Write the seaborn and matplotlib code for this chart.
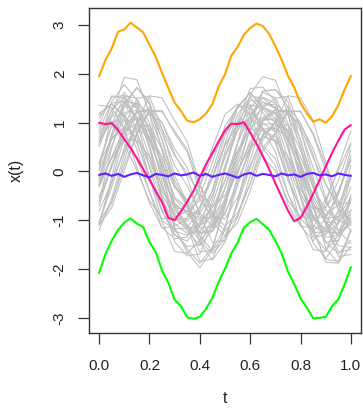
import numpy as np
import pandas as pd
import matplotlib
matplotlib.use("Agg")
import matplotlib.pyplot as plt
import seaborn as sb

# grid of the grey sample paths (step 0.05) and of the coloured curves (step 0.025)
t_grey = [0.0, 0.05, 0.1, 0.15, 0.2, 0.25, 0.3, 0.35, 0.4, 0.45, 0.5,
          0.55, 0.6, 0.65, 0.7, 0.75, 0.8, 0.85, 0.9, 0.95, 1.0]
t_col = [0.0, 0.025, 0.05, 0.075, 0.1, 0.125, 0.15, 0.175, 0.2, 0.225, 0.25,
         0.275, 0.3, 0.325, 0.35, 0.375, 0.4, 0.425, 0.45, 0.475, 0.5,
         0.525, 0.55, 0.575, 0.6, 0.625, 0.65, 0.675, 0.7, 0.725, 0.75,
         0.775, 0.8, 0.825, 0.85, 0.875, 0.9, 0.925, 0.95, 0.975, 1.0]

grey_curves = [
    [0.03, 1.15, 1.93, 1.88, 1.21, -0.04, -1.15, -1.66, -1.97, -1.60, -0.65, 0.60, 1.58, 1.94, 1.87, 1.20, 0.04, -1.14, -1.86, -1.88, -1.21],
    [-0.63, 0.48, 1.33, 1.72, 1.38, 0.43, -0.68, -1.13, -1.84, -1.79, -1.18, -0.07, 0.93, 1.64, 1.68, 1.33, 0.49, -0.64, -1.58, -1.87, -1.53],
    [0.51, 1.27, 1.62, 1.31, 0.47, -0.52, -1.28, -1.54, -1.50, -0.96, 0.03, 0.92, 1.55, 1.50, 1.30, 0.47, -0.51, -1.27, -1.62, -1.31, -0.48],
    [0.96, 1.55, 1.50, 1.01, 0.08, -0.80, -1.31, -1.43, -1.09, -0.38, 0.58, 1.29, 1.62, 1.28, 1.00, 0.07, -0.76, -1.35, -1.30, -0.80, 0.12],
    [-1.06, -0.22, 0.70, 1.21, 1.25, 0.66, -0.18, -0.69, -1.43, -1.68, -1.40, -0.63, 0.24, 1.03, 1.21, 1.25, 0.65, -0.22, -1.06, -1.65, -1.60],
    [1.15, 1.38, 1.12, 0.45, -0.41, -1.15, -1.38, -1.34, -0.80, 0.02, 0.81, 1.34, 1.30, 0.84, 0.41, -0.45, -1.11, -1.42, -1.12, -0.45, 0.44],
    [-0.12, 0.74, 1.21, 1.25, 0.70, -0.08, -0.94, -1.21, -1.52, -1.20, -0.55, 0.35, 1.01, 1.32, 1.20, 0.74, -0.12, -0.90, -1.45, -1.41, -0.94],
    [-1.21, -0.55, 0.35, 1.01, 1.32, 1.00, 0.36, -0.12, -0.90, -1.45, -1.41, -0.94, -0.08, 0.74, 1.01, 1.33, 1.00, 0.35, -0.55, -1.21, -1.48],
    [1.36, 1.31, 0.88, 0.08, -0.64, -1.16, -1.12, -0.97, -0.28, 0.48, 1.17, 1.38, 1.16, 0.48, 0.12, -0.68, -1.12, -1.16, -0.64, 0.08, 0.84],
    [0.52, 1.13, 1.42, 1.12, 0.53, -0.32, -0.93, -1.16, -1.12, -0.68, 0.12, 0.84, 1.36, 1.31, 1.17, 0.48, -0.28, -0.97, -1.18, -0.93, -0.32],
    [-0.28, 0.52, 1.13, 1.41, 1.17, 0.48, -0.31, -0.64, -1.16, -1.12, -0.68, 0.12, 0.84, 1.36, 1.38, 1.16, 0.52, -0.32, -0.93, -1.22, -0.96],
    [-1.10, -0.74, 0.02, 0.76, 1.22, 1.25, 0.78, 0.40, -0.41, -1.04, -1.32, -1.05, -0.40, 0.41, 0.77, 1.22, 1.24, 0.75, 0.02, -0.78, -1.23],
    [0.63, 1.02, 1.06, 0.59, -0.08, -0.83, -1.22, -1.31, -1.05, -0.49, 0.29, 0.85, 1.12, 0.86, 0.63, -0.12, -0.79, -1.26, -1.22, -0.83, -0.08],
    [0.18, 0.93, 1.32, 1.36, 0.89, 0.22, -0.53, -0.75, -1.02, -0.75, -0.19, 0.59, 1.15, 1.42, 1.32, 0.93, 0.18, -0.49, -0.96, -0.92, -0.53],
    [-0.59, 0.08, 0.83, 1.22, 1.26, 0.79, 0.12, -0.29, -0.85, -1.12, -0.85, -0.29, 0.49, 1.05, 1.26, 1.22, 0.83, 0.08, -0.63, -1.02, -1.06],
    [1.19, 1.38, 1.15, 0.59, -0.15, -0.79, -0.98, -0.96, -0.49, 0.18, 0.93, 1.32, 1.36, 0.89, 0.59, -0.19, -0.75, -1.02, -0.75, -0.19, 0.55],
    [0.16, 0.67, 0.92, 0.70, 0.12, -0.56, -1.07, -1.27, -1.23, -0.87, -0.18, 0.43, 0.87, 0.83, 0.71, 0.12, -0.52, -1.11, -1.28, -1.07, -0.56],
    [-0.52, 0.12, 0.71, 0.88, 0.70, 0.16, -0.56, -0.83, -1.27, -1.23, -0.87, -0.18, 0.43, 0.87, 0.88, 0.71, 0.12, -0.56, -1.07, -1.32, -1.07],
    [-0.81, -0.22, 0.42, 1.01, 1.18, 1.00, 0.46, 0.08, -0.57, -0.93, -0.97, -0.53, 0.12, 0.73, 1.01, 1.18, 0.97, 0.46, -0.26, -0.77, -1.02],
    [0.81, 1.13, 1.17, 0.77, 0.22, -0.41, -0.73, -0.82, -0.59, -0.13, 0.53, 0.99, 1.22, 0.99, 0.81, 0.18, -0.37, -0.77, -0.73, -0.41, 0.22],
    [-0.28, 0.27, 0.67, 0.63, 0.31, -0.32, -0.87, -1.13, -1.28, -1.09, -0.63, 0.03, 0.49, 0.72, 0.63, 0.31, -0.28, -0.91, -1.23, -1.27, -0.87],
    [-0.27, 0.28, 0.91, 1.23, 1.27, 0.87, 0.32, -0.03, -0.49, -0.72, -0.49, -0.03, 0.63, 1.09, 1.27, 1.23, 0.91, 0.28, -0.27, -0.67, -0.63],
    [-0.24, 0.68, 1.39, 1.72, 1.43, 0.64, -0.28, -0.66, -1.25, -1.21, -0.70, 0.22, 1.06, 1.65, 1.68, 1.43, 0.64, -0.24, -1.03, -1.28, -1.03],
    [-1.08, -0.12, 0.92, 1.50, 1.54, 0.88, -0.08, -0.65, -1.46, -1.82, -1.45, -0.61, 0.41, 1.30, 1.50, 1.54, 0.87, -0.12, -1.08, -1.74, -1.70],
    [-1.02, -0.63, 0.12, 0.79, 1.26, 1.22, 0.83, 0.45, -0.29, -0.85, -1.12, -0.85, -0.25, 0.49, 0.79, 1.26, 1.22, 0.79, 0.12, -0.63, -1.02],
    [0.93, 0.97, 0.57, 0.02, -0.59, -0.97, -0.93, -0.81, -0.31, 0.33, 0.79, 1.02, 0.81, 0.29, 0.02, -0.60, -0.93, -0.97, -0.57, 0.02, 0.59],
    [0.58, 1.43, 1.78, 1.47, 0.53, -0.58, -1.44, -1.73, -1.69, -1.06, 0.03, 1.04, 1.70, 1.73, 1.44, 0.58, -0.54, -1.47, -1.78, -1.43, -0.58],
    [1.08, 1.52, 1.56, 1.04, 0.32, -0.48, -0.92, -1.02, -0.73, -0.12, 0.72, 1.33, 1.62, 1.33, 1.08, 0.28, -0.44, -0.96, -0.92, -0.48, 0.32],
    [0.02, 0.65, 1.04, 1.07, 0.63, -0.02, -0.65, -0.88, -1.12, -0.87, -0.34, 0.36, 0.88, 1.12, 1.03, 0.65, 0.02, -0.66, -1.04, -1.06, -0.63],
    [-0.71, 0.15, 0.81, 1.12, 0.85, 0.11, -0.75, -1.10, -1.65, -1.61, -1.14, -0.28, 0.50, 1.05, 1.08, 0.85, 0.11, -0.71, -1.45, -1.68, -1.41],
    [0.12, 0.96, 1.55, 1.50, 0.99, 0.08, -0.80, -1.09, -1.42, -1.13, -0.34, 0.58, 1.29, 1.62, 1.51, 0.99, 0.12, -0.76, -1.35, -1.31, -0.80],
    [0.69, 1.25, 1.52, 1.29, 0.66, -0.09, -0.69, -0.82, -0.86, -0.39, 0.32, 0.99, 1.46, 1.42, 1.29, 0.65, -0.05, -0.69, -0.88, -0.69, -0.05],
    [-1.04, -0.32, 0.48, 0.92, 0.95, 0.45, -0.28, -0.72, -1.33, -1.62, -1.33, -0.68, 0.08, 0.77, 0.92, 0.96, 0.44, -0.32, -1.04, -1.52, -1.56],
    [-0.33, 0.29, 0.83, 0.98, 0.82, 0.29, -0.33, -0.57, -0.97, -0.93, -0.60, 0.02, 0.57, 0.97, 0.98, 0.83, 0.29, -0.33, -0.79, -1.02, -0.79],
    [0.86, 1.40, 1.44, 0.82, -0.12, -1.02, -1.64, -1.68, -1.41, -0.57, 0.41, 1.17, 1.52, 1.21, 0.82, -0.08, -1.06, -1.60, -1.64, -1.02, -0.12],
    [0.77, 1.02, 0.78, 0.26, -0.42, -1.01, -1.18, -1.16, -0.73, -0.12, 0.56, 0.93, 0.96, 0.53, 0.26, -0.46, -0.97, -1.22, -0.97, -0.42, 0.26],
    [-1.11, -0.64, 0.22, 1.00, 1.55, 1.51, 1.04, 0.61, -0.25, -0.91, -1.22, -0.91, -0.25, 0.65, 1.00, 1.55, 1.51, 1.04, 0.18, -0.64, -1.11],
    [-0.18, 0.78, 1.44, 1.39, 0.82, -0.22, -1.18, -1.59, -1.88, -1.55, -0.74, 0.35, 1.15, 1.52, 1.40, 0.78, -0.18, -1.22, -1.80, -1.84, -1.18],
]

orange_vals = [1.95, 2.28, 2.52, 2.86, 2.91, 3.05, 2.95, 2.85, 2.60, 2.35, 2.02,
               1.71, 1.41, 1.24, 1.04, 1.01, 1.07, 1.19, 1.38, 1.74, 1.99,
               2.37, 2.55, 2.80, 2.94, 3.03, 2.98, 2.82, 2.57, 2.29, 1.96,
               1.72, 1.40, 1.19, 1.02, 1.07, 1.00, 1.13, 1.36, 1.68, 1.96]
green_vals = [-2.08, -1.70, -1.42, -1.20, -1.05, -0.96, -1.07, -1.14, -1.45, -1.65, -2.03,
              -2.28, -2.63, -2.76, -2.99, -3.02, -2.98, -2.81, -2.59, -2.26, -1.99,
              -1.68, -1.46, -1.15, -1.04, -0.97, -1.08, -1.19, -1.42, -1.68, -2.05,
              -2.31, -2.60, -2.79, -3.01, -3.00, -2.98, -2.76, -2.62, -2.31, -1.96]
pink_vals = [1.00, 0.97, 0.99, 0.85, 0.66, 0.48, 0.27, 0.05, -0.17, -0.40, -0.63,
             -0.95, -1.00, -0.82, -0.62, -0.40, -0.12, 0.15, 0.38, 0.62, 0.84,
             0.98, 0.97, 1.01, 0.80, 0.57, 0.32, 0.05, -0.24, -0.52, -0.80,
             -1.02, -0.95, -0.72, -0.46, -0.18, 0.10, 0.38, 0.63, 0.86, 0.95]
blue_vals = [-0.07, -0.04, -0.09, -0.05, -0.11, -0.06, -0.03, -0.08, -0.12, -0.05, -0.07,
             -0.10, -0.04, -0.08, -0.06, -0.02, -0.09, -0.05, -0.11, -0.07, -0.04,
             -0.08, -0.13, -0.06, -0.03, -0.09, -0.05, -0.07, -0.10, -0.04, -0.08,
             -0.06, -0.11, -0.05, -0.03, -0.08, -0.06, -0.10, -0.04, -0.07, -0.09]

x_ticks = [0.0, 0.2, 0.4, 0.6, 0.8, 1.0]
y_ticks = [-3, -2, -1, 0, 1, 2, 3]

sb.set_style("ticks")
plt.rcParams['font.family'] = ['Liberation Sans', 'DejaVu Sans']

greyDf = pd.DataFrame({
    't': np.tile(t_grey, len(grey_curves)),
    'x': np.concatenate(grey_curves),
    'curve': np.repeat(np.arange(len(grey_curves)), len(t_grey)),
})

fig = plt.figure(figsize=(3.63, 4.11), dpi=100)
ax = fig.add_axes([89 / 363, 1 - 333 / 411, (361 - 89) / 363, (333 - 8) / 411])

sb.lineplot(data=greyDf, x='t', y='x', units='curve', estimator=None,
            color='#bebebe', lw=0.75, ax=ax, legend=False)
sb.lineplot(x=t_col, y=orange_vals, color='#ffa500', lw=1.5, ax=ax)
sb.lineplot(x=t_col, y=green_vals, color='#00ff00', lw=1.5, ax=ax)
sb.lineplot(x=t_col, y=pink_vals, color='#ff1493', lw=1.5, ax=ax)
sb.lineplot(x=t_col, y=blue_vals, color='#6020ff', lw=1.5, ax=ax)

ax.set_xlim(-0.04, 1.04)
ax.set_ylim(-3.31, 3.35)
ax.set_xticks(x_ticks)
ax.set_xticklabels(['%.1f' % v for v in x_ticks])
ax.set_yticks(y_ticks)
ax.set_yticklabels([str(v) for v in y_ticks])
ax.tick_params(axis='both', direction='out', length=8, width=0.9, color='#333333',
               labelsize=11, labelcolor='#222222')
ax.tick_params(axis='x', pad=11)
ax.tick_params(axis='y', labelrotation=90, pad=8)
for lab in ax.get_yticklabels():
    lab.set_va('center')
for s in ax.spines.values():
    s.set_visible(True)
    s.set_color('#333333')
    s.set_linewidth(1.0)

ax.set_xlabel('t', fontsize=11.5, color='#222222', labelpad=13)
ax.set_ylabel('x(t)', fontsize=11.5, color='#222222', labelpad=21)

fig.savefig('out.png', dpi=100)
